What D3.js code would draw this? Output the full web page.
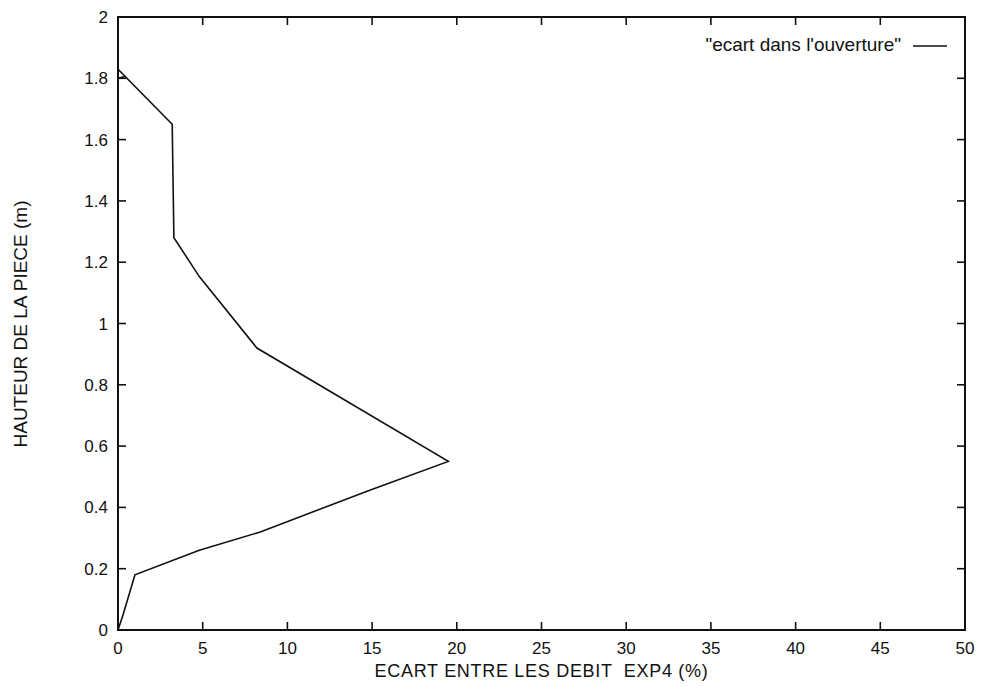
<!DOCTYPE html>
<html>
<head>
<meta charset="utf-8">
<script src="https://cdn.jsdelivr.net/npm/d3@7"></script>
<style>
  body { margin: 0; background: #fff; }
  svg text { font-family: "Liberation Sans", Arial, sans-serif; fill: #111; }
</style>
</head>
<body>
<svg id="chart"></svg>
<script>
const WIDTH = 986;
const HEIGHT = 686;

// ecart (%) against hauteur (m), in the order the curve is drawn
const ecart = [0, 0.3, 1.0, 4.8, 8.4, 14.9, 19.5, 8.2, 4.8, 3.3, 3.2, 0, 0, 0.45];
const hauteur = [0, 0.05, 0.18, 0.26, 0.32, 0.457, 0.55, 0.92, 1.153, 1.28, 1.65, 1.83, 1.80, 1.807];
const xTicks = [0, 5, 10, 15, 20, 25, 30, 35, 40, 45, 50];
const yTicks = [0, 0.2, 0.4, 0.6, 0.8, 1, 1.2, 1.4, 1.6, 1.8, 2];
const legendLabel = "\"ecart dans l'ouverture\"";
const xTitle = "ECART ENTRE LES DEBIT  EXP4 (%)";
const yTitle = "HAUTEUR DE LA PIECE (m)";

const margin = { left: 118, right: 21, top: 17, bottom: 56 };
const svg = d3.select("#chart").attr("width", WIDTH).attr("height", HEIGHT);

const x = d3.scaleLinear().domain([0, 50]).range([margin.left, WIDTH - margin.right]);
const y = d3.scaleLinear().domain([0, 2]).range([HEIGHT - margin.bottom, margin.top]);

const TICK = 8;

/* inward ticks on all four sides, like gnuplot */
const g = svg.append("g").attr("stroke", "#111").attr("stroke-width", 1.6);
xTicks.slice(1, -1).forEach((t) => {
  g.append("line").attr("x1", x(t)).attr("x2", x(t))
    .attr("y1", y(0)).attr("y2", y(0) - TICK);
  g.append("line").attr("x1", x(t)).attr("x2", x(t))
    .attr("y1", y(2)).attr("y2", y(2) + TICK);
});
yTicks.slice(1, -1).forEach((t) => {
  g.append("line").attr("x1", x(0)).attr("x2", x(0) + TICK)
    .attr("y1", y(t)).attr("y2", y(t));
  g.append("line").attr("x1", x(50)).attr("x2", x(50) - TICK)
    .attr("y1", y(t)).attr("y2", y(t));
});

/* frame */
svg.append("rect")
  .attr("x", x(0)).attr("y", y(2))
  .attr("width", x(50) - x(0)).attr("height", y(0) - y(2))
  .attr("fill", "none").attr("stroke", "#111").attr("stroke-width", 2);

/* tick labels */
svg.append("g").selectAll("text").data(xTicks).join("text")
  .attr("x", (d) => x(d)).attr("y", y(0) + 24)
  .attr("text-anchor", "middle").attr("font-size", 17)
  .text((d) => d);

svg.append("g").selectAll("text").data(yTicks).join("text")
  .attr("x", x(0) - 10).attr("y", (d) => y(d) + 6)
  .attr("text-anchor", "end").attr("font-size", 17)
  .text((d) => d);

/* axis titles */
svg.append("text")
  .attr("x", (x(0) + x(50)) / 2).attr("y", y(0) + 47)
  .attr("text-anchor", "middle").attr("font-size", 18)
  .attr("letter-spacing", 0.7)
  .attr("xml:space", "preserve")
  .text(xTitle);

svg.append("text")
  .attr("transform", `translate(27,324) rotate(-90)`)
  .attr("text-anchor", "middle").attr("font-size", 19)
  .text(yTitle);

/* curve */
const pts = ecart.map((e, i) => [e, hauteur[i]]);
const line = d3.line().x((d) => x(d[0])).y((d) => y(d[1]));
svg.append("path")
  .attr("d", line(pts))
  .attr("fill", "none").attr("stroke", "#111")
  .attr("stroke-width", 1.6).attr("stroke-linejoin", "miter");

/* legend */
svg.append("text")
  .attr("x", 901).attr("y", 51)
  .attr("text-anchor", "end").attr("font-size", 19)
  .text(legendLabel);
svg.append("line")
  .attr("x1", 913).attr("x2", 947).attr("y1", 46).attr("y2", 46)
  .attr("stroke", "#111").attr("stroke-width", 1.4);
</script>
</body>
</html>
